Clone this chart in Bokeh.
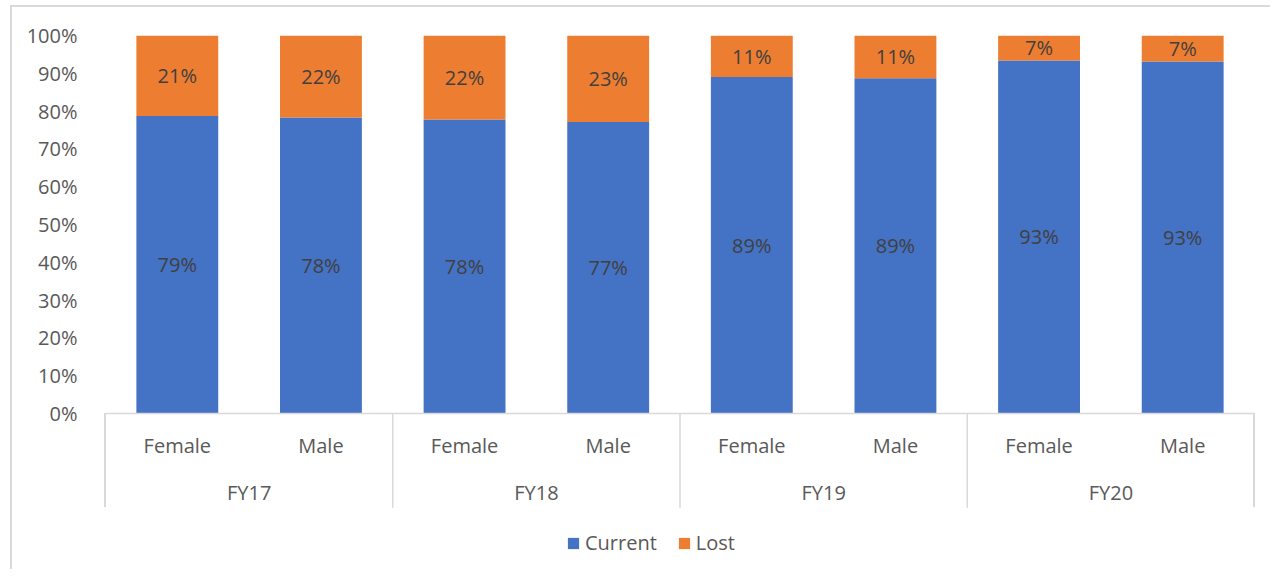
from bokeh.plotting import figure
from bokeh.models import (ColumnDataSource, FactorRange, FixedTicker, Legend, LegendItem,
                          NumeralTickFormatter, Range1d, Span)
from bokeh.core.properties import value
from bokeh.embed import file_html
from bokeh.resources import INLINE

years = ["FY17", "FY18", "FY19", "FY20"]
genders = ["Female", "Male"]
current = [0.787, 0.783, 0.778, 0.771, 0.890, 0.887, 0.934, 0.931]
lost = [0.213, 0.217, 0.222, 0.229, 0.110, 0.113, 0.066, 0.069]
series = ["Current", "Lost"]
colors = ["#4472C4", "#ED7D31"]
y_ticks = [0, 0.1, 0.2, 0.3, 0.4, 0.5, 0.6, 0.7, 0.8, 0.9, 1.0]

FONT = "Open Sans"
GRAY = "#595959"
LINE = "#d9d9d9"
factors = [(y, g) for y in years for g in genders]

src = ColumnDataSource(dict(
    x=factors,
    Current=current,
    Lost=lost,
    cur_mid=[c / 2 for c in current],
    lost_mid=[c + l / 2 for c, l in zip(current, lost)],
    cur_lab=[f"{round(c * 100)}%" for c in current],
    lost_lab=[f"{round(l * 100)}%" for l in lost],
))

# frame extends below 0% to hold the two-level category labels and the legend
p = figure(frame_width=1149, frame_height=530, output_backend="svg", toolbar_location=None,
           x_range=FactorRange(*factors, group_padding=0, range_padding=0),
           y_range=Range1d(-0.402, 1.0),
           min_border_left=105, min_border_right=16, min_border_top=35, min_border_bottom=4)
p.outline_line_color = None
p.xgrid.grid_line_color = None
p.ygrid.grid_line_color = None
p.background_fill_alpha = 0
p.border_fill_alpha = 0
p.xaxis.visible = False

rs = p.vbar_stack(series, x="x", width=0.57, color=colors, line_color=None, source=src)

p.text(x="x", y="cur_mid", text="cur_lab", source=src, text_align="center", text_baseline="middle",
       text_font=value(FONT), text_font_size="20px", text_color="#404040")
p.text(x="x", y="lost_mid", text="lost_lab", source=src, text_align="center", text_baseline="middle",
       text_font=value(FONT), text_font_size="20px", text_color="#404040")

# category axis: baseline, sub-labels, group labels, separators
p.add_layout(Span(location=0, dimension="width", line_color=LINE, line_width=1.5))
p.text(x=factors, y=[-0.085] * len(factors), text=[g for _, g in factors],
       text_align="center", text_baseline="middle",
       text_font=value(FONT), text_font_size="20px", text_color=GRAY)
p.text(x=years, y=[-0.209] * len(years), text=years,
       text_align="center", text_baseline="middle",
       text_font=value(FONT), text_font_size="20px", text_color=GRAY)
sep_x = [i * len(genders) for i in range(1, len(years))]
p.segment(x0=sep_x, x1=sep_x, y0=[0] * len(sep_x), y1=[-0.249] * len(sep_x),
          line_color=LINE, line_width=1.5)

ya = p.yaxis[0]
ya.ticker = FixedTicker(ticks=y_ticks)
ya.formatter = NumeralTickFormatter(format="0%")
ya.axis_line_color = None
ya.major_tick_line_color = None
ya.minor_tick_line_color = None
ya.major_label_standoff = 22
ya.major_label_text_font = FONT
ya.major_label_text_font_size = "20px"
ya.major_label_text_color = GRAY

legend = Legend(items=[LegendItem(label=s, renderers=[r]) for s, r in zip(series, rs)],
                orientation="horizontal", location=(461, 9),
                label_text_font=FONT, label_text_font_size="20px", label_text_color=GRAY,
                glyph_width=14, glyph_height=14, spacing=20, label_standoff=5,
                border_line_color=None, background_fill_alpha=0, margin=0, padding=0)
p.add_layout(legend, "center")

g = f"linear-gradient({LINE},{LINE})"
p.styles = {
    "background": (f"{g} 10px 5px / 2px 100% no-repeat, "
                   f"{g} 10px 5px / 100% 2px no-repeat, "
                   f"{g} 104px 413px / 2px 94px no-repeat, "
                   f"{g} 1253px 413px / 2px 94px no-repeat, white"),
}

open("out.html", "w").write(file_html(p, INLINE))
